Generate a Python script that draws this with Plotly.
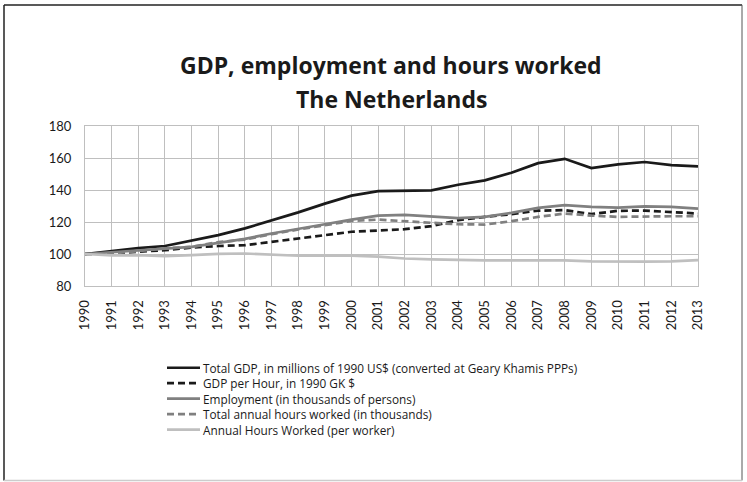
import plotly.graph_objects as go

years = list(range(1990, 2014))

total_gdp = [100, 101.8, 103.7, 105, 108.2, 111.8, 116, 121, 126, 131.5, 136.5, 139.3,
             139.4, 139.8, 143.3, 146, 150.8, 156.8, 159.5, 153.7, 156, 157.5, 155.6, 154.8]
gdp_per_hour = [100, 100.4, 101.4, 102.4, 104, 105, 105.5, 107.6, 109.5, 112, 113.9, 114.7,
                115.5, 117.4, 121.1, 123.2, 124.9, 127.1, 127.4, 124.9, 127, 127.1, 126.1, 125.3]
employment = [100, 101.2, 102.4, 103.5, 104.5, 107, 109.5, 112.8, 115.5, 118.6, 121.5, 124,
              124.4, 123.6, 122.4, 123.2, 125.7, 128.8, 130.5, 129.4, 129, 129.8, 129.4, 128.4]
total_hours = [100, 100.4, 101.8, 103.5, 104.5, 107.4, 109, 112.4, 115.3, 117.8, 120.7, 121.5,
               120.7, 119.5, 118.6, 118.4, 120.5, 123.2, 125.3, 124, 123.2, 123.6, 123.6, 123.6]
hours_per_worker = [100, 99.1, 99.3, 98.7, 99.3, 100.1, 100.3, 99.5, 98.9, 98.9, 98.9, 98.3,
                    97.2, 96.6, 96.2, 96, 96, 96, 96, 95.4, 95.2, 95.2, 95.4, 96.2]

series_names = [
    "Total GDP, in millions of 1990 US$ (converted at Geary Khamis PPPs)",
    "GDP per Hour, in 1990 GK $",
    "Employment (in thousands of persons)",
    "Total annual hours worked (in thousands)",
    "Annual Hours Worked (per worker)",
]
series_values = [total_gdp, gdp_per_hour, employment, total_hours, hours_per_worker]

FONT = "Lato"
LEGEND_FONT = "Open Sans"
TITLE_FONT = "Open Sans"
styles = [
    dict(color="#1a1a1a", width=2.7, dash="solid"),
    dict(color="#1a1a1a", width=2.7, dash="7px,4px"),
    dict(color="#808080", width=2.7, dash="solid"),
    dict(color="#808080", width=2.7, dash="7px,4px"),
    dict(color="#bfbfbf", width=2.7, dash="solid"),
]

fig = go.Figure()
for name, vals, st in zip(series_names, series_values, styles):
    fig.add_trace(go.Scatter(x=years, y=vals, mode="lines", name=name,
                             line=st, showlegend=False))

# plot area geometry (pixels) used to place the hand-built legend and frame
L, R, T, B = 85, 698, 125.5, 286
W, H = 747, 482


def px_x(px):
    return (px - L) / (R - L)


def px_y(py):
    return (B - py) / (B - T)


shapes = []
annotations = []
row_y = [368.0, 383.5, 399.0, 414.5, 430.0]
for name, st, ry in zip(series_names, styles, row_y):
    shapes.append(dict(type="line", xref="paper", yref="paper",
                       x0=px_x(167), x1=px_x(200), y0=px_y(ry), y1=px_y(ry),
                       line=st))
    annotations.append(dict(text=name, xref="paper", yref="paper",
                            x=px_x(201), y=px_y(ry), xanchor="left", yanchor="middle",
                            showarrow=False,
                            font=dict(family=LEGEND_FONT, size=11.8, color="#1a1a1a")))

# chart title, two centred lines
annotations.append(dict(text="<b>GDP, employment and hours worked</b>",
                        xref="paper", yref="paper", x=px_x(391), y=px_y(64),
                        xanchor="center", yanchor="middle", showarrow=False,
                        font=dict(family=TITLE_FONT, size=23, color="#1a1a1a")))
annotations.append(dict(text="<b>The Netherlands</b>",
                        xref="paper", yref="paper", x=px_x(391), y=px_y(98),
                        xanchor="center", yanchor="middle", showarrow=False,
                        font=dict(family=TITLE_FONT, size=23, color="#1a1a1a")))

# outer frame
shapes.append(dict(type="line", xref="paper", yref="paper", x0=px_x(4), x1=px_x(4),
                   y0=px_y(4), y1=px_y(481), line=dict(color="#222222", width=1.5)))
shapes.append(dict(type="line", xref="paper", yref="paper", x0=px_x(4), x1=px_x(742),
                   y0=px_y(4), y1=px_y(4), line=dict(color="#222222", width=1.5)))
shapes.append(dict(type="line", xref="paper", yref="paper", x0=px_x(742), x1=px_x(742),
                   y0=px_y(4), y1=px_y(481), line=dict(color="#555555", width=1)))
shapes.append(dict(type="line", xref="paper", yref="paper", x0=px_x(4), x1=px_x(742),
                   y0=px_y(481), y1=px_y(481), line=dict(color="#cccccc", width=1.5)))

fig.update_layout(
    width=W, height=H,
    margin=dict(l=L, r=W - R, t=T, b=H - B, pad=0),
    paper_bgcolor="white", plot_bgcolor="white",
    xaxis=dict(range=[1990, 2013], tickmode="array", tickvals=years,
               ticktext=[str(y) for y in years], tickangle=-90,
               showgrid=True, gridcolor="#bfbfbf", gridwidth=1,
               showline=True, linecolor="#bfbfbf", linewidth=1, mirror=True,
               ticks="outside", ticklen=8, tickcolor="rgba(0,0,0,0)", zeroline=False,
               tickfont=dict(family=FONT, size=13, color="#1a1a1a")),
    yaxis=dict(range=[80, 180], tickmode="array", tickvals=[80, 100, 120, 140, 160, 180],
               showgrid=True, gridcolor="#bfbfbf", gridwidth=1,
               showline=True, linecolor="#bfbfbf", linewidth=1, mirror=True,
               ticks="outside", ticklen=10, tickcolor="rgba(0,0,0,0)", zeroline=False,
               tickfont=dict(family=FONT, size=13, color="#1a1a1a")),
    shapes=shapes,
    annotations=annotations,
    showlegend=False,
)

fig.write_html("out.html")
